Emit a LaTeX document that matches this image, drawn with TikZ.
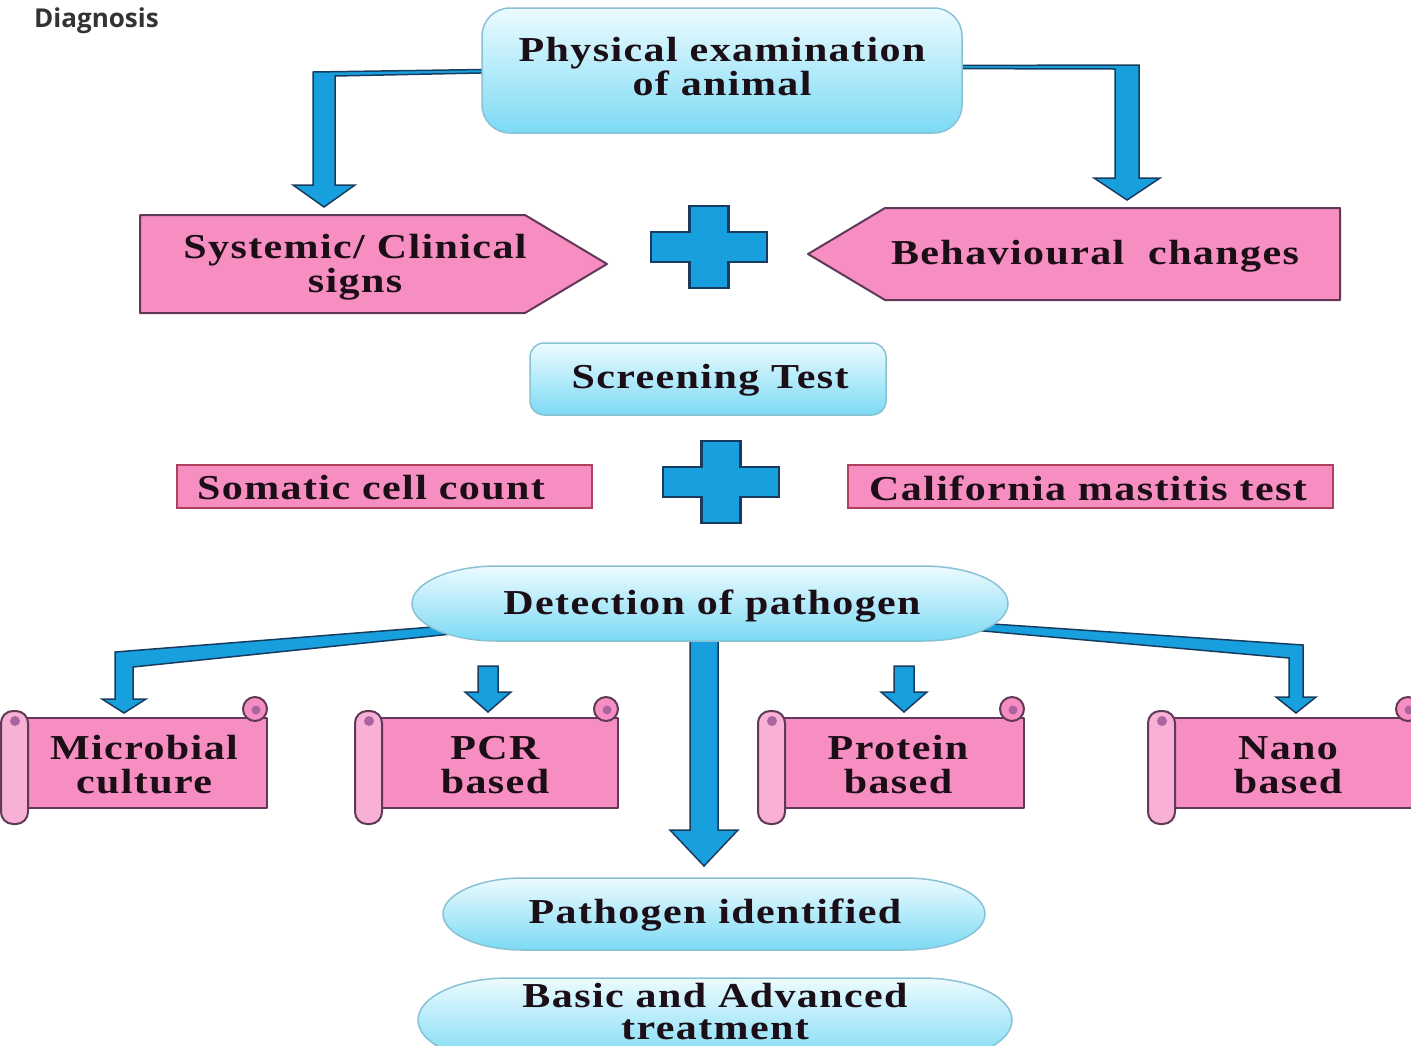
\documentclass[tikz,border=0pt]{standalone}
\usepackage{fontspec}
\setmainfont{Liberation Serif}
\newfontfamily\boxfont{Liberation Serif}[FakeStretch=1.2,LetterSpace=4]
\newfontfamily\headfont{Open Sans}
\usetikzlibrary{positioning,calc,backgrounds}

\definecolor{arrblue}{RGB}{24,160,222}
\definecolor{arrline}{RGB}{24,60,96}
\definecolor{pinkfill}{RGB}{246,142,194}
\definecolor{pinkline}{RGB}{96,56,88}
\definecolor{flatline}{RGB}{176,64,96}
\definecolor{rollfill}{RGB}{248,176,214}
\definecolor{curlfill}{RGB}{170,100,160}
\definecolor{cyantop}{RGB}{236,251,255}
\definecolor{cyanbot}{RGB}{124,218,244}
\definecolor{cyanline}{RGB}{136,194,212}
\definecolor{txt}{RGB}{28,14,22}
\definecolor{headgray}{RGB}{51,51,51}

\tikzset{
  lbl/.style={font=\boxfont\bfseries\fontsize{35}{34}\selectfont, text=txt, align=center, inner sep=0pt},
  cyanbox/.style={draw=cyanline, line width=1.5pt, top color=cyantop, bottom color=cyanbot},
  pinkbox/.style={draw=pinkline, line width=2pt, fill=pinkfill, line join=round},
  flatbox/.style={draw=flatline, line width=2pt, fill=pinkfill},
  blockarr/.style={draw=arrline, line width=1.5pt, fill=arrblue, line join=miter},
  pics/plussign/.style={code={
    \filldraw[blockarr, line width=2.5pt] (-19.5,41) -- (19.5,41) -- (19.5,15) -- (58,15)
      -- (58,-15) -- (19.5,-15) -- (19.5,-41) -- (-19.5,-41) -- (-19.5,-15)
      -- (-58,-15) -- (-58,15) -- (-19.5,15) -- cycle;}}
}

% start, corner (shaft centre, bar top), tip, shaft half, head half, head length, bar thickness
\newcommand{\elbow}[7]{%
  \filldraw[blockarr] let \p1=(#1), \p2=(#2), \p3=(#3) in
    (\x1,{\y1+1}) -- ({\x2-(#4)},\y2) -- ({\x2-(#4)},{\y3+#6}) -- ({\x2-(#5)},{\y3+#6}) -- (\x3,\y3)
    -- ({\x2+(#5)},{\y3+#6}) -- ({\x2+(#4)},{\y3+#6}) -- ({\x2+(#4)},{\y2-#7}) -- (\x1,{\y1-1}) -- cycle;}
% top, tip, shaft half, head half, head length
\newcommand{\blockdown}[5]{%
  \filldraw[blockarr] let \p1=(#1), \p2=(#2) in
    ({\x2-#3},\y1) -- ({\x2+#3},\y1) -- ({\x2+#3},{\y2+#5}) -- ({\x2+#4},{\y2+#5}) -- (\x2,\y2)
    -- ({\x2-#4},{\y2+#5}) -- ({\x2-#3},{\y2+#5}) -- cycle;}
% left edge of roll, right edge of sheet
\newcommand{\scrollshape}[2]{%
  \filldraw[pinkbox] ({#1+20},-718) rectangle (#2,-808);
  \filldraw[pinkbox] ({#2-12},-709) circle[radius=12];
  \fill[curlfill] ({#2-11},-710) circle[radius=4.5];
  \filldraw[pinkbox, fill=rollfill, rounded corners=12] (#1,-711) rectangle ({#1+27},-824);
  \fill[curlfill] ({#1+14},-721) circle[radius=5];}

\begin{document}
\begin{tikzpicture}[x=1pt,y=1pt]
\useasboundingbox (0,0) rectangle (1411,-1045);

\node[font=\headfont\bfseries\fontsize{26}{28}\selectfont, text=headgray, anchor=west, inner sep=0pt] (diag) at (34,-21) {Diagnosis};

\node[lbl] (phys) at (722,-67) {Physical examination\\of animal};
\node[lbl] (sys) at (355,-267) {Systemic/ Clinical\\signs};
\node[lbl] (beh) at (1095,-256) {Behavioural\ \ changes};
\node[lbl] (scr) at (710,-380) {Screening Test};
\node[lbl] (som) at (371,-488) {Somatic cell count};
\node[lbl] (cmt) at (1088,-488) {California mastitis test};
\node[lbl] (det) at (712,-606) {Detection of pathogen};
\node[lbl] (mic) at (144,-765) {Microbial\\culture};
\node[lbl] (pcr) at (495,-765) {PCR\\based};
\node[lbl] (pro) at (898,-765) {Protein\\based};
\node[lbl] (nano) at (1288,-765) {Nano\\based};
\node[lbl] (pid) at (715,-915) {Pathogen identified};
\node[lbl] (trt) at (715,-1012) {Basic and Advanced\\[-2pt]treatment};

\coordinate (sysbend) at (324,-72);
\coordinate (sysin) at (324,-207);
\coordinate (behbend) at (1127,-65);
\coordinate (behin) at (1127,-200);
\coordinate (micbend) at (124,-652);
\coordinate (micin) at (124,-713);
\coordinate (nanobend) at (1296,-645);
\coordinate (nanoin) at (1296,-713);
\coordinate (pcrtop) at (488,-666);
\coordinate (pcrin) at (488,-712);
\coordinate (protop) at (904,-666);
\coordinate (proin) at (904,-712);
\coordinate (pidin) at (704,-866);

\begin{scope}[on background layer]
  \clip (0,0) rectangle (1411,-1045);
  \elbow{phys}{sysbend}{sysin}{11}{31}{22}{4}
  \elbow{phys}{behbend}{behin}{-12}{-33}{22}{4}
  \elbow{det}{micbend}{micin}{9}{22}{14}{15}
  \elbow{det}{nanobend}{nanoin}{-7}{-20}{16}{13}
  \blockdown{pcrtop}{pcrin}{10}{23}{20}
  \blockdown{protop}{proin}{10}{23}{20}
  \blockdown{det}{pidin}{14}{34}{36}

  \filldraw[cyanbox, shift={(phys)}, rounded corners=28] (-240,59) rectangle (240,-66);
  \filldraw[pinkbox, shift={(sys)}] (-215,52) -- (170,52) -- (252,3) -- (170,-46) -- (-215,-46) -- cycle;
  \filldraw[pinkbox, shift={(beh)}] (-210,48) -- (245,48) -- (245,-44) -- (-210,-44) -- (-287,2) -- cycle;
  \pic at (709,-247) {plussign};
  \filldraw[cyanbox, shift={(scr)}, rounded corners=14] (-180,37) rectangle (176,-35);
  \pic at (721,-482) {plussign};
  \filldraw[flatbox, shift={(som)}] (-194,23) rectangle (221,-20);
  \filldraw[flatbox, shift={(cmt)}] (-240,23) rectangle (245,-20);
  \filldraw[cyanbox, shift={(det)}] (-215,40) -- (211,40)
    arc[start angle=90, end angle=-90, x radius=85, y radius=37.5] -- (-215,-35)
    arc[start angle=270, end angle=90, x radius=85, y radius=37.5] -- cycle;
  \scrollshape{1}{267}
  \scrollshape{355}{618}
  \scrollshape{758}{1024}
  \scrollshape{1148}{1420}
  \filldraw[cyanbox, shift={(pid)}] (-192,37) -- (190,37)
    arc[start angle=90, end angle=-90, x radius=80, y radius=36] -- (-192,-35)
    arc[start angle=270, end angle=90, x radius=80, y radius=36] -- cycle;
  \filldraw[cyanbox, shift={(trt)}] (-207,34) -- (207,34)
    arc[start angle=90, end angle=-90, x radius=90, y radius=42] -- (-207,-50)
    arc[start angle=270, end angle=90, x radius=90, y radius=42] -- cycle;
\end{scope}
\end{tikzpicture}
\end{document}
